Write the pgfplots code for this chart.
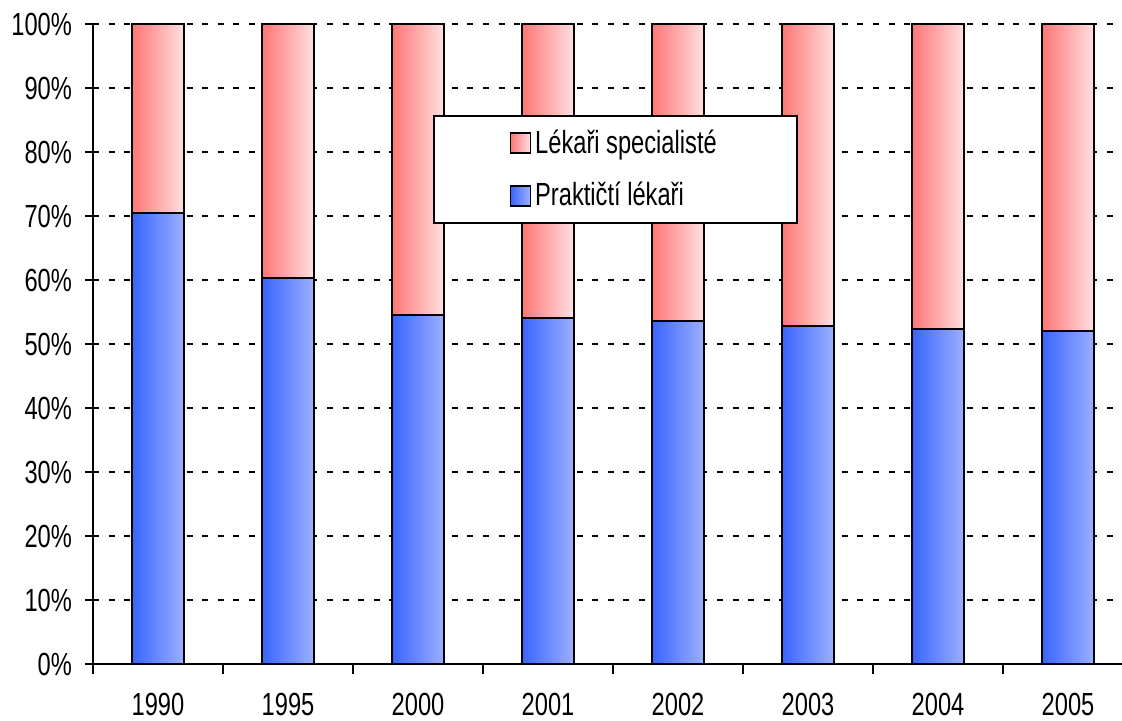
\documentclass[border=0pt]{standalone}
\usepackage{fontspec}
\setmainfont{Liberation Sans}[FakeStretch=0.74]
\usepackage{pgfplots}
\pgfplotsset{compat=1.18}

\definecolor{blueL}{RGB}{58,100,255}
\definecolor{blueR}{RGB}{155,176,255}
\definecolor{redL}{RGB}{255,118,118}
\definecolor{redR}{RGB}{255,224,224}

% one bar per \addplot, so that every bar gets its own left-to-right shading
\pgfplotsset{
    spec/.style={draw=black, line width=1pt, left color=redL, right color=redR, forget plot},
    prakt/.style={draw=black, line width=1pt, left color=blueL, right color=blueR, forget plot},
}

\begin{document}
\begin{tikzpicture}
\begin{axis}[
    scale only axis,
    width=514.5pt, height=320pt,
    ybar, bar width=26pt, bar shift=0pt,
    xmin=-0.5, xmax=7.415,
    ymin=0, ymax=100,
    axis x line=bottom, axis y line=left,
    axis line style={-, line width=1pt, black},
    xtick={0,1,2,3,4,5,6,7},
    xticklabels={1990,1995,2000,2001,2002,2003,2004,2005},
    minor xtick={-0.5,0.5,1.5,2.5,3.5,4.5,5.5,6.5},
    major x tick style={draw=none},
    minor x tick style={black, line width=1pt},
    y tick style={black, line width=1pt},
    tick align=outside,
    major tick length=4pt, minor tick length=5pt,
    ytick={0,10,...,100},
    yticklabel={\pgfmathprintnumber{\tick}\%},
    /pgf/number format/assume math mode=true,
    tick label style={font=\fontsize{16}{19}\selectfont},
    xticklabel style={yshift=-7pt},
    yticklabel style={xshift=-3pt},
    ymajorgrids=true,
    grid style={black, line width=1.4pt, dash pattern=on 3pt off 4.8pt},
    legend cell align=left,
    legend style={at={(rel axis cs:0.330,0.858)}, anchor=north west,
        draw=black, line width=1pt, inner xsep=38pt, inner ysep=5pt,
        font=\fontsize{16}{19}\selectfont, row sep=9pt},
    legend image code/.code={\draw[#1, line width=0.8pt] (0pt,-5pt) rectangle (10pt,5pt);},
    clip=false,
]
% Lékaři specialisté: share up to 100 %, drawn behind
\addplot[spec] coordinates {(0,100)};
\addplot[spec] coordinates {(1,100)};
\addplot[spec] coordinates {(2,100)};
\addplot[spec] coordinates {(3,100)};
\addplot[spec] coordinates {(4,100)};
\addplot[spec] coordinates {(5,100)};
\addplot[spec] coordinates {(6,100)};
\addplot[spec] coordinates {(7,100)};
% Praktičtí lékaři: share in %
\addplot[prakt] coordinates {(0,70.5)};
\addplot[prakt] coordinates {(1,60.3)};
\addplot[prakt] coordinates {(2,54.5)};
\addplot[prakt] coordinates {(3,54.1)};
\addplot[prakt] coordinates {(4,53.6)};
\addplot[prakt] coordinates {(5,52.8)};
\addplot[prakt] coordinates {(6,52.3)};
\addplot[prakt] coordinates {(7,52.0)};
\addlegendimage{draw=black, left color=redL, right color=redR}
\addlegendentry{Lékaři specialisté}
\addlegendimage{draw=black, left color=blueL, right color=blueR}
\addlegendentry{Praktičtí lékaři}
\end{axis}
\pgfresetboundingbox
\useasboundingbox (-46.5pt,-28.5pt) rectangle (514.5pt,332pt);
\end{tikzpicture}
\end{document}
